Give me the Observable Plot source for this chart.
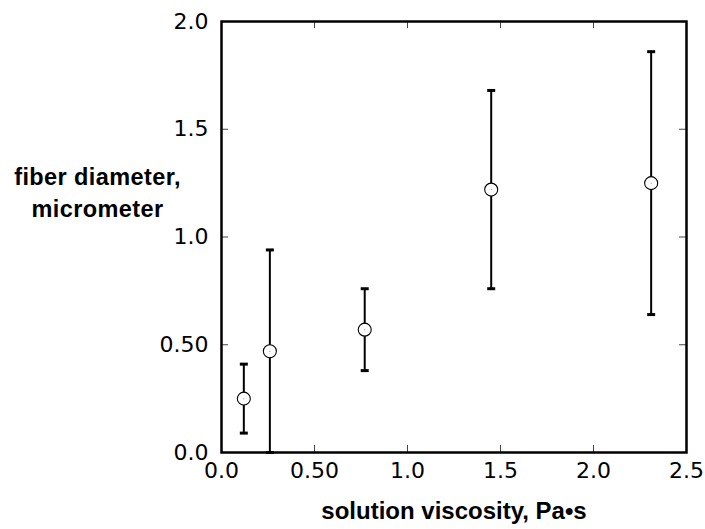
<!DOCTYPE html>
<html>
<head>
<meta charset="utf-8">
<script src="https://cdn.jsdelivr.net/npm/d3@7"></script>
<script src="https://cdn.jsdelivr.net/npm/@observablehq/plot@0.6"></script>
<style>
  html, body { margin: 0; padding: 0; background: #fff; }
  #chart { position: relative; width: 705px; height: 529px; }
  .ytitle { position: absolute; left: 0; top: 161px; width: 195px; text-align: center;
    font-family: "Liberation Sans", Arial, sans-serif; font-weight: bold; font-size: 23.5px; line-height: 32px;
    letter-spacing: 0.4px; color: #000; }
</style>
</head>
<body>
<div id="chart"></div>
<script>
// data
const viscosity = [0.12, 0.26, 0.77, 1.45, 2.31];
const diameter  = [0.25, 0.47, 0.57, 1.22, 1.25];
const errLow    = [0.09, 0.0, 0.38, 0.76, 0.64];
const errHigh   = [0.41, 0.94, 0.76, 1.68, 1.86];
const xTicks = [0, 0.5, 1.0, 1.5, 2.0, 2.5];
const xTickLabels = ["0.0", "0.50", "1.0", "1.5", "2.0", "2.5"];
const yTicks = [0, 0.5, 1.0, 1.5, 2.0];
const yTickLabels = ["0.0", "0.50", "1.0", "1.5", "2.0"];
const xTitle = "solution viscosity, Pa\u2022s";
const yTitleLines = ["fiber diameter,", "micrometer"];

const rows = viscosity.map((v, i) => ({x: v, y: diameter[i], lo: errLow[i], hi: errHigh[i]}));

const W = 705, H = 529;
const mL = 221, mR = 19, mT = 21, mB = 77;
const frameW = W - mL - mR, frameH = H - mT - mB;
const tickLen = 7;

const capSymbol = { draw(ctx, size) { ctx.moveTo(-4, 0); ctx.lineTo(4, 0); } };

const fmtX = d => xTickLabels[xTicks.indexOf(d)];
const fmtY = d => yTickLabels[yTicks.indexOf(d)];

const plot = Plot.plot({
  width: W, height: H,
  marginLeft: mL, marginRight: mR, marginTop: mT, marginBottom: mB,
  style: { fontFamily: "'DejaVu Sans', sans-serif", fontSize: "22px", color: "#000", background: "#fff" },
  x: { domain: [0, 2.5] },
  y: { domain: [0, 2.0] },
  marks: [
    // inward ticks on all four sides
    Plot.tickX(xTicks, { x: d => d, insetTop: frameH - tickLen, stroke: "#444", strokeWidth: 1 }),
    Plot.tickX(xTicks.slice(1, -1), { x: d => d, insetBottom: frameH - tickLen, stroke: "#444", strokeWidth: 1 }),
    Plot.tickY(yTicks, { y: d => d, insetRight: frameW - tickLen, stroke: "#444", strokeWidth: 1 }),
    Plot.tickY(yTicks.slice(1, -1), { y: d => d, insetLeft: frameW - tickLen, stroke: "#444", strokeWidth: 1 }),
    Plot.axisX(xTicks, { tickSize: 0, tickPadding: 10, tickFormat: fmtX, fontSize: 22, label: null }),
    Plot.axisY(yTicks, { tickSize: 0, tickPadding: 13, tickFormat: fmtY, fontSize: 22, label: null }),
    // error bars
    Plot.ruleX(rows, { x: "x", y1: "lo", y2: "hi", stroke: "#000", strokeWidth: 2 }),
    Plot.dot(rows, { x: "x", y: "hi", symbol: capSymbol, stroke: "#000", strokeWidth: 3 }),
    Plot.dot(rows, { x: "x", y: "lo", symbol: capSymbol, stroke: "#000", strokeWidth: 3 }),
    // points
    Plot.dot(rows, { x: "x", y: "y", r: 6.5, fill: "#fff", stroke: "#000", strokeWidth: 1.1 }),
    Plot.dot(rows, { x: "x", y: "y", r: 0.5, fill: "#666" }),
    Plot.frame({ stroke: "#000", strokeWidth: 2.5 }),
    Plot.text([xTitle], { frameAnchor: "bottom", dy: 66, text: d => d, fontFamily: "'Liberation Sans', Arial, sans-serif",
      fontWeight: "bold", fontSize: 24, fill: "#000" })
  ]
});

const chart = document.getElementById("chart");
chart.appendChild(plot);
const yt = document.createElement("div");
yt.className = "ytitle";
yt.innerHTML = yTitleLines.join("<br>");
chart.appendChild(yt);
</script>
</body>
</html>
